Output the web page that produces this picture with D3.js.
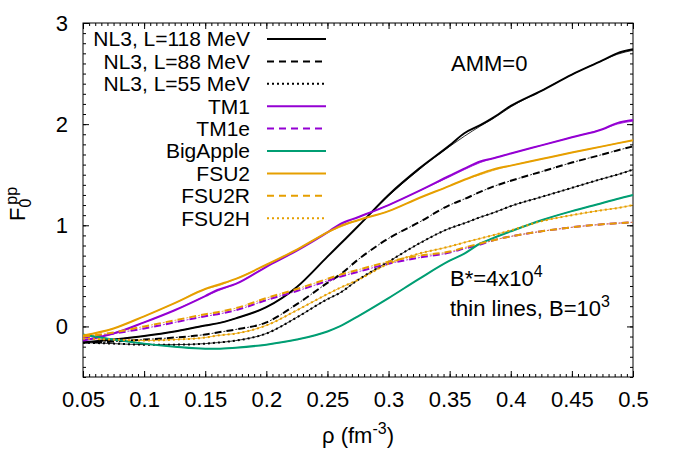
<!DOCTYPE html>
<html>
<head>
<meta charset="utf-8">
<script src="https://cdn.jsdelivr.net/npm/d3@7"></script>
<style>
  body { margin: 0; background: #fff; }
  svg { font-family: "Liberation Sans", Arial, sans-serif; }
  .axis path { display: none; }
  .axis line { stroke: #000; }
</style>
</head>
<body>
<div id="chart"></div>
<script>
/* Data */
var rho = [0.05, 0.075, 0.1, 0.125, 0.15, 0.16, 0.175, 0.2, 0.225, 0.25, 0.26, 0.275,
           0.3, 0.325, 0.35, 0.362, 0.375, 0.385, 0.4, 0.425, 0.45, 0.475, 0.487, 0.5];

var nl3L118  = [-0.16, -0.13, -0.095, -0.05, 0.01, 0.03, 0.08, 0.19, 0.39, 0.69, 0.81, 0.99,
                1.30, 1.56, 1.79, 1.91, 1.99, 2.06, 2.18, 2.33, 2.49, 2.63, 2.70, 2.74];
var nl3L88   = [-0.16, -0.15, -0.13, -0.11, -0.08, -0.06, -0.03, 0.04, 0.22, 0.43, 0.51, 0.66,
                0.87, 1.03, 1.20, 1.26, 1.33, 1.38, 1.44, 1.53, 1.62, 1.70, 1.74, 1.78];
var nl3L55   = [-0.16, -0.17, -0.18, -0.18, -0.17, -0.16, -0.14, -0.07, 0.09, 0.27, 0.33, 0.46,
                0.64, 0.82, 0.97, 1.02, 1.08, 1.12, 1.19, 1.28, 1.37, 1.46, 1.50, 1.55];
var tm1      = [-0.14, -0.07, 0.04, 0.16, 0.30, 0.36, 0.42, 0.59, 0.75, 0.93, 1.01, 1.08,
                1.20, 1.34, 1.49, 1.56, 1.63, 1.66, 1.71, 1.79, 1.87, 1.95, 2.01, 2.04];
var tm1e     = [-0.11, -0.07, -0.02, 0.04, 0.10, 0.12, 0.16, 0.26, 0.35, 0.45, 0.49, 0.54,
                0.62, 0.68, 0.73, 0.77, 0.81, 0.85, 0.89, 0.94, 0.98, 1.01, 1.02, 1.03];
var bigApple = [-0.08, -0.13, -0.17, -0.20, -0.22, -0.22, -0.21, -0.18, -0.13, -0.05, 0.0, 0.10,
                0.28, 0.47, 0.65, 0.72, 0.82, 0.87, 0.94, 1.05, 1.14, 1.22, 1.26, 1.30];
var fsu2     = [-0.09, -0.02, 0.10, 0.23, 0.37, 0.41, 0.47, 0.61, 0.76, 0.93, 0.99, 1.05,
                1.14, 1.27, 1.39, 1.45, 1.51, 1.55, 1.59, 1.655, 1.72, 1.78, 1.81, 1.84];
var fsu2R    = [-0.10, -0.06, 0.0, 0.06, 0.12, 0.14, 0.18, 0.28, 0.37, 0.47, 0.51, 0.56,
                0.64, 0.70, 0.74, 0.78, 0.82, 0.85, 0.89, 0.94, 0.98, 1.01, 1.02, 1.03];
var fsu2H    = [-0.12, -0.13, -0.14, -0.13, -0.11, -0.09, -0.07, 0.01, 0.16, 0.32, 0.38, 0.46,
                0.62, 0.72, 0.79, 0.83, 0.87, 0.90, 0.95, 1.04, 1.10, 1.15, 1.17, 1.20];

// thin lines (B=10^3): almost on top of the thick ones, smoother at the kinks
var nl3L118Thin = [-0.16, -0.13, -0.095, -0.05, 0.01, 0.03, 0.08, 0.19, 0.39, 0.69, 0.81, 0.99,
                   1.29, 1.55, 1.78, 1.88, 1.98, 2.05, 2.17, 2.33, 2.49, 2.63, 2.69, 2.73];
var tm1Thin     = [-0.14, -0.07, 0.04, 0.16, 0.30, 0.35, 0.42, 0.59, 0.75, 0.93, 1.00, 1.08,
                   1.20, 1.34, 1.48, 1.55, 1.62, 1.66, 1.71, 1.79, 1.87, 1.95, 2.00, 2.03];
var fsu2Thin    = [-0.09, -0.02, 0.10, 0.23, 0.37, 0.40, 0.47, 0.61, 0.76, 0.93, 0.98, 1.05,
                   1.14, 1.27, 1.39, 1.45, 1.50, 1.54, 1.59, 1.655, 1.72, 1.78, 1.81, 1.84];

var names  = ["NL3, L=118 MeV", "NL3, L=88 MeV", "NL3, L=55 MeV", "TM1", "TM1e",
              "BigApple", "FSU2", "FSU2R", "FSU2H"];
var thick  = [nl3L118, nl3L88, nl3L55, tm1, tm1e, bigApple, fsu2, fsu2R, fsu2H];
var thin   = [nl3L118Thin, nl3L88, nl3L55, tm1Thin, tm1e, bigApple, fsu2Thin, fsu2R, fsu2H];
var colors = ["#000000", "#000000", "#000000", "#9400d3", "#9400d3",
              "#009e73", "#e69f00", "#e69f00", "#e69f00"];
var dashes = ["none", "7,5", "2,3", "none", "7,5", "none", "none", "7,5", "2,3"];

var xTicks = [0.05, 0.1, 0.15, 0.2, 0.25, 0.3, 0.35, 0.4, 0.45, 0.5];
var yTicks = [0, 1, 2, 3];

/* Layout */
var width = 674, height = 472;
var margin = {top: 23, right: 41, bottom: 95, left: 83};
var plotW = width - margin.left - margin.right;
var plotH = height - margin.top - margin.bottom;

var svg = d3.select("#chart").append("svg")
    .attr("width", width)
    .attr("height", height);

var x = d3.scaleLinear().domain([0.05, 0.5]).range([0, plotW]);
var y = d3.scaleLinear().domain([-0.5, 3]).range([plotH, 0]);

var g = svg.append("g")
    .attr("transform", "translate(" + margin.left + "," + margin.top + ")");

var xMinor = d3.range(0, 91).map(function(i){ return 0.05 + i * 0.005; });
var yMinor = d3.range(0, 36).map(function(i){ return -0.5 + i * 0.1; });

// bottom axis with labels, top/right mirrors without
g.append("g").attr("class", "axis")
    .attr("transform", "translate(0," + plotH + ")")
    .call(d3.axisBottom(x).tickValues(xTicks).tickSize(-6).tickPadding(14)
          .tickFormat(d3.format("")))
    .selectAll("text").style("font-size", "22px").attr("fill", "#000");
g.append("g").attr("class", "axis")
    .attr("transform", "translate(0," + plotH + ")")
    .call(d3.axisBottom(x).tickValues(xMinor).tickSize(-3).tickFormat(""));
g.append("g").attr("class", "axis")
    .call(d3.axisTop(x).tickValues(xTicks).tickSize(-6).tickFormat(""));
g.append("g").attr("class", "axis")
    .call(d3.axisTop(x).tickValues(xMinor).tickSize(-3).tickFormat(""));

g.append("g").attr("class", "axis")
    .call(d3.axisLeft(y).tickValues(yTicks).tickSize(-6).tickPadding(15)
          .tickFormat(d3.format("d")))
    .selectAll("text").style("font-size", "22px").attr("fill", "#000");
g.append("g").attr("class", "axis")
    .call(d3.axisLeft(y).tickValues(yMinor).tickSize(-3).tickFormat(""));
g.append("g").attr("class", "axis")
    .attr("transform", "translate(" + plotW + ",0)")
    .call(d3.axisRight(y).tickValues(yTicks).tickSize(-6).tickFormat(""));
g.append("g").attr("class", "axis")
    .attr("transform", "translate(" + plotW + ",0)")
    .call(d3.axisRight(y).tickValues(yMinor).tickSize(-3).tickFormat(""));

g.append("rect")
    .attr("width", plotW).attr("height", plotH)
    .attr("fill", "none").attr("stroke", "#000").attr("stroke-width", 1);

/* Curves */
var line = d3.line()
    .x(function(d, i){ return x(rho[i]); })
    .y(function(d){ return y(d); })
    .curve(d3.curveMonotoneX);

var curves = g.append("g");
thin.forEach(function(vals, i){
    curves.append("path")
        .attr("d", line(vals))
        .attr("fill", "none")
        .attr("stroke", colors[i])
        .attr("stroke-width", 1)
        .attr("stroke-dasharray", dashes[i] == "7,5" ? "2,10" : "none")
        .attr("stroke-dashoffset", dashes[i] == "7,5" ? -9 : 0)
        .attr("opacity", 0.8);
});
thick.forEach(function(vals, i){
    curves.append("path")
        .attr("d", line(vals))
        .attr("fill", "none")
        .attr("stroke", colors[i])
        .attr("stroke-width", 2)
        .attr("stroke-dasharray", dashes[i]);
});

/* Legend */
var legend = svg.append("g").style("font-size", "21px");
names.forEach(function(name, i){
    var ly = 39 + i * 22.4;
    legend.append("text")
        .attr("x", 250).attr("y", ly).attr("dy", "0.35em")
        .attr("text-anchor", "end")
        .text(name);
    legend.append("line")
        .attr("x1", 267).attr("x2", 326)
        .attr("y1", ly).attr("y2", ly)
        .attr("stroke", colors[i])
        .attr("stroke-width", 2)
        .attr("stroke-dasharray", dashes[i]);
});

/* Annotations */
svg.append("text").attr("x", 451).attr("y", 71)
    .style("font-size", "22px").text("AMM=0");

var b1 = svg.append("text").attr("x", 450).attr("y", 286).style("font-size", "22px");
b1.append("tspan").text("B*=4x10");
b1.append("tspan").attr("dy", -9).style("font-size", "16px").text("4");

var b2 = svg.append("text").attr("x", 450).attr("y", 316).style("font-size", "22px");
b2.append("tspan").text("thin lines, B=10");
b2.append("tspan").attr("dy", -9).style("font-size", "16px").text("3");

/* Axis titles */
var xt = svg.append("text")
    .attr("x", margin.left + plotW / 2).attr("y", 443)
    .attr("text-anchor", "middle")
    .style("font-size", "22px");
xt.append("tspan").text("ρ (fm");
xt.append("tspan").attr("dy", -9).style("font-size", "16px").text("-3");
xt.append("tspan").attr("dy", 9).text(")");

var yt = svg.append("text")
    .attr("transform", "translate(25,221) rotate(-90)")
    .style("font-size", "22px");
yt.append("tspan").text("F");
yt.append("tspan").attr("dy", 6).style("font-size", "16px").text("0");
yt.append("tspan").attr("dx", -6).attr("dy", -14).style("font-size", "16px").text("pp");
</script>
</body>
</html>
